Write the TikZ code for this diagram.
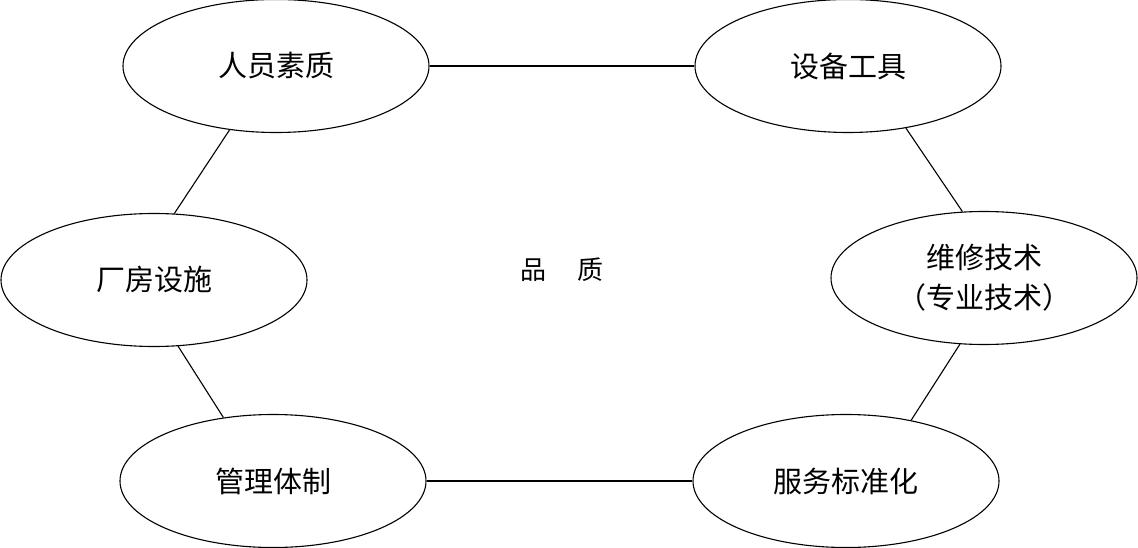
\documentclass[tikz,border=0pt]{standalone}
\usepackage{fontspec}
\newfontfamily\cjk{Noto Sans CJK SC}
\usetikzlibrary{shapes.geometric}
\begin{document}
\begin{tikzpicture}[x=1pt,y=-1pt,
  oval/.style={draw, ellipse, line width=1.1pt, inner sep=0pt,
    minimum width=306pt, minimum height=133pt, font=\cjk\fontsize{29}{40}\selectfont, align=center},
  link/.style={line width=1.1pt}]
\useasboundingbox (0,0) rectangle (1138,548);
\node[oval] (ry) at (276,66) {人员素质};
\node[oval] (sb) at (848,66) {设备工具};
\node[oval] (cf) at (154,280) {厂房设施};
\node[oval] (wx) at (984,278) {维修技术\\（专业技术）};
\node[oval] (gl) at (273,481) {管理体制};
\node[oval] (fw) at (846,481) {服务标准化};
\node[font=\cjk\fontsize{26}{30}\selectfont] (pz) at (562,270) {品\hspace{1.2em}质};
\draw[link] (ry) -- (sb);
\draw[link] (ry.234) -- (cf.73);
\draw[link] (cf.290) -- (gl.128);
\draw[link] (gl) -- (fw);
\draw[link] (fw.43) -- (wx.250);
\draw[link] (wx.108) -- (sb.313);
\end{tikzpicture}
\end{document}
